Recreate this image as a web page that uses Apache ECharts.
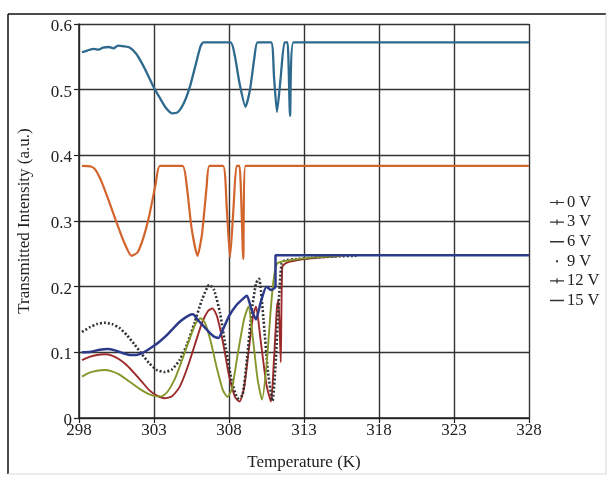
<!DOCTYPE html>
<html>
<head>
<meta charset="utf-8">
<style>
html,body{margin:0;padding:0;background:#fff;}
#chart{width:611px;height:478px;}
</style>
<script src="https://cdn.jsdelivr.net/npm/echarts@6/dist/echarts.min.js"></script>
</head>
<body>
<div id="chart"></div>
<script>
// Tick labels / axis ranges
const xTicks = [298, 303, 308, 313, 318, 323, 328];
const yTicks = [0, 0.1, 0.2, 0.3, 0.4, 0.5, 0.6];
const legendNames = ['0 V', '3 V', '6 V', '9 V', '12 V', '15 V'];

// 0 V (top curve)
const v0 = [[298.2,0.557],[298.6,0.560],[299.0,0.562],[299.3,0.561],[299.6,0.564],[300.0,0.565],[300.3,0.563],[300.6,0.567],[301.0,0.566],[301.4,0.564],[301.8,0.555],[302.2,0.540],[302.6,0.522],[303.0,0.503],[303.4,0.487],[303.8,0.472],[304.2,0.464],[304.6,0.466],[305.0,0.480],[305.4,0.505],[305.8,0.540],[306.1,0.566],[306.3,0.572],[308.1,0.572],[308.4,0.550],[308.7,0.510],[309.1,0.474],[309.4,0.500],[309.7,0.550],[309.9,0.572],[310.8,0.572],[311.0,0.520],[311.2,0.466],[311.45,0.520],[311.7,0.572],[311.9,0.572],[312.07,0.460],[312.3,0.572],[328,0.572]];
// 3 V
const v3 = [[298.2,0.384],[298.8,0.383],[299.1,0.378],[299.5,0.360],[300.0,0.330],[300.5,0.298],[301.0,0.268],[301.5,0.247],[301.9,0.252],[302.3,0.275],[302.7,0.310],[303.1,0.355],[303.4,0.384],[304.9,0.384],[305.2,0.350],[305.5,0.290],[305.9,0.247],[306.2,0.280],[306.5,0.350],[306.7,0.384],[307.6,0.384],[307.85,0.320],[308.07,0.245],[308.3,0.320],[308.5,0.384],[308.7,0.384],[308.95,0.242],[309.1,0.384],[328,0.384]];
// 6 V
const v6 = [[298.2,0.088],[298.7,0.093],[299.2,0.096],[299.7,0.097],[300.2,0.095],[300.7,0.089],[301.2,0.080],[301.7,0.068],[302.2,0.055],[302.7,0.042],[303.2,0.034],[303.7,0.030],[304.2,0.033],[304.7,0.047],[305.2,0.075],[305.7,0.110],[306.2,0.145],[306.6,0.163],[306.9,0.167],[307.2,0.155],[307.6,0.115],[308.0,0.065],[308.4,0.032],[308.7,0.025],[309.0,0.045],[309.3,0.100],[309.6,0.155],[309.8,0.170],[310.1,0.120],[310.5,0.050],[310.8,0.025],[311.0,0.090],[311.2,0.170],[311.3,0.180],[311.45,0.085],[311.55,0.230],[311.8,0.236],[312.5,0.240],[313.5,0.243],[314.5,0.245],[315.5,0.247]];
// 9 V
const v9 = [[298.2,0.131],[298.7,0.138],[299.2,0.143],[299.7,0.145],[300.2,0.143],[300.7,0.137],[301.2,0.126],[301.7,0.112],[302.2,0.097],[302.7,0.083],[303.2,0.073],[303.7,0.070],[304.2,0.074],[304.7,0.088],[305.2,0.112],[305.7,0.145],[306.2,0.180],[306.7,0.203],[307.0,0.195],[307.4,0.160],[307.8,0.105],[308.2,0.055],[308.6,0.030],[308.9,0.035],[309.2,0.090],[309.5,0.160],[309.8,0.205],[310.0,0.212],[310.3,0.150],[310.6,0.070],[310.9,0.026],[311.1,0.080],[311.3,0.170],[311.5,0.235],[311.7,0.240],[312.5,0.242],[313.5,0.244],[315.0,0.246],[316.5,0.247]];
// 12 V
const v12 = [[298.2,0.100],[298.8,0.101],[299.4,0.104],[299.9,0.105],[300.4,0.103],[300.9,0.099],[301.4,0.096],[301.8,0.096],[302.3,0.100],[302.8,0.107],[303.3,0.115],[303.8,0.125],[304.3,0.137],[304.8,0.148],[305.3,0.156],[305.6,0.158],[305.9,0.150],[306.3,0.140],[306.7,0.130],[307.0,0.124],[307.3,0.122],[307.6,0.135],[308.0,0.155],[308.5,0.172],[309.0,0.183],[309.2,0.186],[309.5,0.165],[309.8,0.150],[310.1,0.175],[310.5,0.200],[310.8,0.195],[311.1,0.200],[311.1,0.248],[328,0.248]];
// 15 V
const v15 = [[298.2,0.063],[298.7,0.069],[299.2,0.072],[299.7,0.073],[300.2,0.071],[300.7,0.066],[301.2,0.058],[301.7,0.050],[302.2,0.042],[302.7,0.036],[303.2,0.033],[303.5,0.033],[303.9,0.040],[304.4,0.060],[304.9,0.090],[305.4,0.122],[305.8,0.145],[306.1,0.152],[306.4,0.145],[306.8,0.115],[307.2,0.075],[307.6,0.042],[307.9,0.032],[308.2,0.045],[308.6,0.100],[309.0,0.150],[309.3,0.170],[309.6,0.120],[309.9,0.060],[310.2,0.028],[310.5,0.080],[310.8,0.170],[311.0,0.215],[311.2,0.235],[311.5,0.238],[312.0,0.240],[313.0,0.243],[314.0,0.245],[315.5,0.247]];

const serif = '"Liberation Serif", "DejaVu Serif", serif';
const chart = echarts.init(document.getElementById('chart'));

const corner = 'M0,0h0.01v0.01h-0.01z M16,10h0.01v0.01h-0.01z ';
const iconPlus = 'path://' + corner + 'M1,4.4h14v1.2h-14z M7.4,2.4h1.2v5.2h-1.2z';
const iconLine = 'path://' + corner + 'M1,4.3h14v1.4h-14z';
const iconDot = 'path://' + corner + 'M7,4h2v2h-2z';
const icons = [iconPlus, iconPlus, iconLine, iconDot, iconPlus, iconLine];

const seriesData = [v0, v3, v6, v9, v12, v15];
const colors = ['#2d6a8e', '#d2642c', '#9c2a2a', '#333333', '#2b3a8a', '#86962a'];
const widths = [2.3, 2.2, 1.9, 2.6, 2.5, 1.9];

const series = seriesData.map((d, i) => ({
  name: legendNames[i],
  type: 'line',
  data: d,
  showSymbol: false,
  smooth: 0.2,
  animation: false,
  lineStyle: {
    color: colors[i],
    width: widths[i],
    type: i === 3 ? [2, 2] : 'solid'
  },
  itemStyle: { color: colors[i] },
  z: i === 4 ? 3 : 2
}));

chart.setOption({
  animation: false,
  backgroundColor: '#fff',
  grid: { left: 79, right: 82, top: 24, bottom: 60, containLabel: false },
  xAxis: {
    type: 'value', min: xTicks[0], max: xTicks[xTicks.length - 1], interval: 5,
    name: 'Temperature (K)', nameLocation: 'middle', nameGap: 36,
    nameTextStyle: { fontFamily: serif, fontSize: 17, color: '#222' },
    axisLine: { show: true, lineStyle: { color: '#222', width: 1.5 } },
    axisTick: { show: true, length: 5, lineStyle: { color: '#222', width: 1.2 } },
    axisLabel: { fontFamily: serif, fontSize: 17, color: '#222', margin: 4 },
    splitLine: { show: true, lineStyle: { color: '#333', width: 1.4 } }
  },
  yAxis: {
    type: 'value', min: yTicks[0], max: yTicks[yTicks.length - 1], interval: 0.1,
    name: 'Transmitted Intensity (a.u.)', nameLocation: 'middle', nameGap: 46,
    nameTextStyle: { fontFamily: serif, fontSize: 17, color: '#222' },
    axisLine: { show: true, lineStyle: { color: '#222', width: 1.5 } },
    axisTick: { show: true, length: 5, lineStyle: { color: '#222', width: 1.2 } },
    axisLabel: { fontFamily: serif, fontSize: 17, color: '#222', margin: 7,
      verticalAlign: 'top', lineHeight: 5,
      formatter: v => (Math.abs(v) < 1e-9 ? '0' : v.toFixed(1)) },
    splitLine: { show: true, lineStyle: { color: '#333', width: 1.4 } }
  },
  legend: {
    orient: 'vertical', left: 544, top: 189,
    itemWidth: 16, itemHeight: 10, itemGap: 2.6,
    textStyle: { fontFamily: serif, fontSize: 16.5, color: '#222', lineHeight: 16, padding: [0,0,0,-3] },
    itemStyle: { color: '#333' },
    data: legendNames.map((n, i) => ({ name: n, icon: icons[i] }))
  },
  visualMap: [
    { type: 'piecewise', show: false, seriesIndex: 5, dimension: 0,
      pieces: [
        { lt: 309.35, color: '#86962a' },
        { gte: 309.35, lt: 310.9, color: '#e07a30' },
        { gte: 310.9, color: '#a3a335' }
      ] },
    { type: 'piecewise', show: false, seriesIndex: 2, dimension: 0,
      pieces: [
        { lt: 311.3, color: '#9c2a2a' },
        { gte: 311.3, lt: 311.7, color: '#d03ad0' },
        { gte: 311.7, color: '#a83030' }
      ] }
  ],
  graphic: [
    { type: 'line', shape: { x1: 8, y1: 14, x2: 606, y2: 14 }, style: { stroke: '#111', lineWidth: 1.5 }, silent: true },
    { type: 'line', shape: { x1: 8, y1: 14, x2: 8, y2: 474 }, style: { stroke: '#111', lineWidth: 1.5 }, silent: true },
    { type: 'line', shape: { x1: 606, y1: 14, x2: 606, y2: 474 }, style: { stroke: '#d8d8d8', lineWidth: 1 }, silent: true },
    { type: 'line', shape: { x1: 8, y1: 474, x2: 606, y2: 474 }, style: { stroke: '#d8d8d8', lineWidth: 1 }, silent: true }
  ],
  series: series
});
</script>
</body>
</html>
